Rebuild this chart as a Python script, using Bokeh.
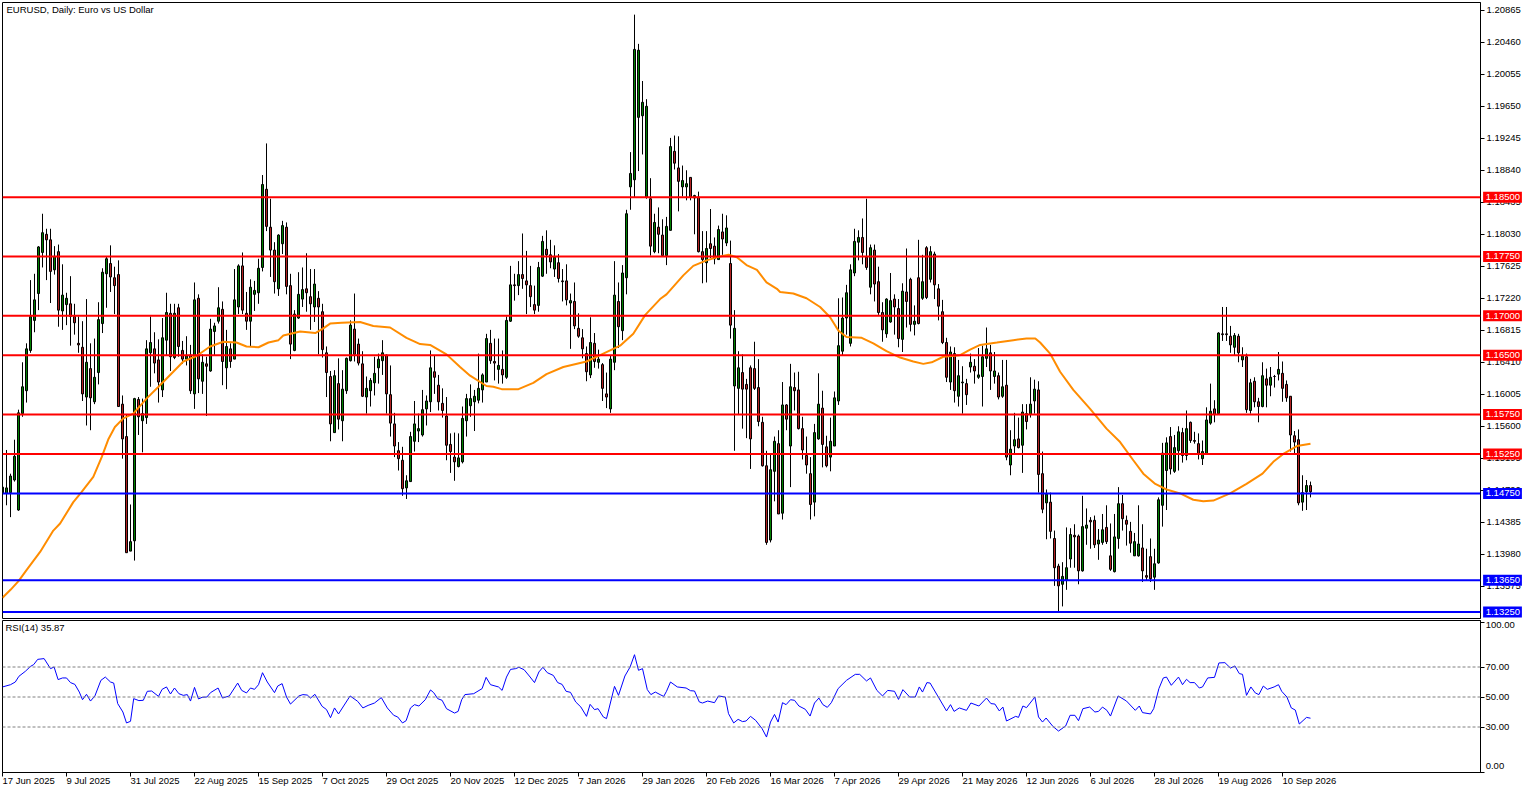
from bokeh.plotting import figure
from bokeh.layouts import column
from bokeh.models import Range1d, FixedTicker, Span, Label, NumeralTickFormatter
from bokeh.core.properties import value
from bokeh.embed import file_html
from bokeh.resources import INLINE

FONT = "Liberation Sans"

# Prices are in 1/10000 of a dollar
highs = [
11556,11530,11500,11543,11581,11641,11665,11745,11753,11788,
11829,11810,11810,11788,11790,11765,11729,11750,11715,11699,
11693,11721,11665,11671,11717,11760,11775,11789,11762,11770,
11599,11575,11461,11596,11597,11595,11669,11699,11679,11670,
11697,11729,11715,11715,11715,11668,11674,11663,11742,11727,
11651,11648,11696,11691,11736,11718,11682,11665,11759,11765,
11780,11730,11746,11744,11772,11878,11918,11848,11793,11803,
11820,11818,11753,11707,11755,11761,11779,11759,11759,11731,
11715,11661,11630,11631,11646,11631,11647,11694,11728,11671,
11655,11623,11621,11648,11652,11669,11651,11637,11577,11540,
11534,11498,11553,11592,11576,11606,11599,11656,11650,11625,
11608,11597,11551,11552,11551,11585,11601,11613,11606,11652,
11627,11677,11682,11671,11671,11656,11699,11763,11753,11769,
11804,11782,11763,11738,11768,11801,11808,11796,11789,11778,
11759,11765,11728,11742,11703,11683,11661,11698,11678,11657,
11640,11628,11649,11769,11742,11764,11834,11907,12081,12044,
11997,11974,11874,11829,11837,11822,11825,11925,11928,11927,
11890,11884,11875,11853,11857,11807,11807,11835,11799,11814,
11829,11827,11795,11707,11655,11651,11620,11637,11667,11645,
11572,11529,11524,11547,11555,11616,11588,11639,11628,11629,
11572,11547,11521,11563,11627,11605,11548,11571,11604,11722,
11723,11739,11765,11810,11808,11823,11848,11790,11790,11762,
11717,11722,11754,11727,11721,11741,11785,11748,11713,11796,
11777,11788,11788,11781,11740,11720,11672,11661,11660,11644,
11636,11620,11652,11645,11659,11662,11685,11663,11654,11628,
11644,11644,11555,11577,11571,11588,11588,11622,11619,11617,
11528,11480,11476,11428,11386,11388,11432,11431,11436,11423,
11472,11456,11445,11447,11430,11449,11460,11437,11449,11483,
11473,11447,11439,11425,11460,11436,11405,11418,11405,11470,
11539,11546,11559,11549,11560,11558,11580,11566,11553,11551,
11542,11584,11614,11593,11679,11711,11711,11687,11678,11677,
11660,11652,11620,11622,11596,11641,11633,11635,11625,11654,
11642,11618,11598,11554,11556,11498,11492,11490]

body_hi = [
11483,11482,11497,11522,11577,11610,11658,11699,11720,11787,
11805,11803,11796,11775,11781,11726,11722,11715,11699,11665,
11660,11641,11633,11622,11695,11755,11772,11766,11748,11752,
11588,11547,11414,11595,11594,11576,11658,11666,11658,11644,
11672,11704,11703,11703,11710,11656,11649,11650,11720,11722,
11641,11639,11683,11687,11710,11708,11661,11658,11720,11763,
11763,11703,11736,11732,11760,11866,11860,11812,11783,11802,
11814,11812,11738,11702,11727,11733,11734,11724,11740,11722,
11705,11653,11623,11624,11614,11607,11646,11688,11683,11664,
11639,11608,11618,11627,11645,11653,11650,11600,11563,11529,
11517,11491,11547,11563,11557,11581,11592,11634,11629,11612,
11589,11573,11537,11521,11520,11570,11595,11595,11598,11608,
11625,11671,11665,11642,11637,11632,11694,11739,11739,11752,
11752,11744,11738,11714,11761,11794,11784,11777,11774,11767,
11744,11744,11719,11718,11684,11672,11652,11666,11665,11645,
11638,11601,11645,11726,11718,11754,11829,11880,12037,12036,
11970,11965,11848,11818,11812,11802,11813,11914,11908,11887,
11871,11867,11875,11852,11850,11781,11785,11791,11788,11809,
11806,11811,11766,11684,11634,11628,11613,11634,11633,11609,
11565,11510,11505,11541,11538,11587,11587,11610,11609,11606,
11557,11523,11500,11552,11588,11583,11534,11541,11596,11662,
11697,11729,11758,11794,11799,11799,11774,11786,11783,11743,
11704,11721,11719,11721,11709,11731,11730,11746,11693,11748,
11743,11786,11781,11778,11734,11705,11666,11654,11652,11624,
11616,11614,11641,11636,11625,11648,11658,11653,11630,11624,
11610,11612,11531,11543,11544,11578,11576,11588,11607,11606,
11500,11474,11464,11418,11383,11370,11381,11423,11422,11421,
11433,11435,11441,11441,11416,11429,11432,11396,11420,11462,
11462,11441,11427,11414,11411,11406,11371,11395,11386,11467,
11526,11539,11547,11533,11553,11552,11557,11565,11542,11538,
11528,11568,11579,11582,11678,11677,11677,11674,11675,11674,
11649,11648,11615,11617,11591,11624,11620,11622,11623,11632,
11627,11613,11598,11548,11543,11476,11485,11485]

body_lo = [
11475,11475,11476,11492,11454,11576,11605,11656,11694,11728,
11780,11796,11756,11758,11707,11706,11714,11699,11691,11663,
11601,11597,11596,11591,11628,11690,11753,11749,11738,11585,
11544,11400,11402,11415,11572,11567,11571,11653,11640,11616,
11606,11669,11648,11647,11661,11645,11645,11605,11601,11620,
11617,11636,11630,11680,11693,11642,11634,11642,11645,11711,
11707,11693,11693,11727,11729,11761,11813,11783,11743,11734,
11791,11737,11664,11656,11697,11721,11729,11715,11711,11711,
11657,11628,11563,11552,11569,11567,11605,11643,11651,11640,
11598,11597,11605,11615,11634,11643,11601,11564,11535,11519,
11481,11482,11490,11541,11554,11549,11582,11591,11622,11591,
11580,11536,11528,11515,11509,11515,11567,11586,11591,11593,
11606,11616,11643,11640,11632,11625,11622,11693,11738,11738,
11747,11739,11724,11707,11713,11750,11777,11768,11759,11747,
11743,11720,11716,11687,11674,11658,11629,11625,11642,11641,
11608,11597,11582,11641,11686,11681,11748,11863,11872,11951,
11953,11850,11788,11781,11803,11776,11776,11808,11893,11870,
11863,11863,11850,11849,11781,11771,11767,11785,11772,11771,
11797,11792,11688,11611,11608,11607,11607,11544,11608,11566,
11510,11413,11416,11503,11449,11450,11569,11535,11605,11557,
11530,11511,11461,11464,11544,11537,11510,11521,11535,11592,
11655,11697,11665,11754,11793,11780,11761,11736,11740,11704,
11682,11677,11692,11711,11671,11670,11718,11689,11689,11690,
11722,11723,11746,11739,11712,11666,11622,11616,11605,11598,
11615,11600,11635,11630,11622,11623,11646,11630,11623,11597,
11598,11521,11511,11535,11533,11536,11566,11575,11592,11499,
11455,11463,11427,11381,11358,11360,11365,11392,11420,11377,
11377,11431,11439,11410,11411,11413,11414,11379,11376,11418,
11443,11436,11412,11396,11396,11377,11369,11367,11369,11387,
11460,11504,11506,11503,11529,11523,11523,11542,11541,11525,
11519,11525,11564,11575,11576,11676,11676,11663,11660,11653,
11644,11581,11580,11591,11585,11585,11612,11612,11623,11626,
11608,11596,11549,11540,11463,11464,11477,11477]

lows = [
11471,11460,11445,11490,11453,11572,11590,11653,11679,11707,
11761,11745,11716,11752,11686,11682,11688,11662,11676,11653,
11592,11561,11555,11588,11613,11678,11710,11730,11702,11585,
11519,11400,11402,11390,11549,11527,11563,11610,11627,11590,
11597,11650,11630,11645,11648,11639,11637,11601,11582,11602,
11601,11573,11629,11650,11690,11612,11607,11634,11645,11702,
11702,11682,11661,11706,11715,11756,11807,11749,11728,11725,
11778,11727,11645,11655,11696,11711,11705,11682,11692,11651,
11647,11597,11541,11552,11556,11541,11601,11642,11642,11637,
11597,11576,11585,11599,11614,11625,11576,11547,11521,11504,
11472,11468,11490,11528,11540,11547,11561,11578,11601,11580,
11571,11517,11501,11491,11508,11513,11547,11572,11554,11589,
11590,11616,11639,11618,11614,11614,11620,11692,11719,11726,
11734,11702,11711,11702,11705,11749,11753,11760,11749,11742,
11718,11713,11658,11683,11672,11646,11617,11621,11634,11633,
11592,11583,11577,11631,11659,11669,11727,11834,11850,11883,
11904,11848,11776,11779,11779,11775,11764,11808,11885,11832,
11851,11846,11846,11803,11780,11741,11742,11773,11765,11771,
11777,11788,11671,11529,11575,11557,11545,11506,11606,11560,
11509,11410,11413,11465,11449,11442,11555,11483,11580,11556,
11518,11500,11442,11446,11543,11508,11508,11503,11535,11587,
11650,11676,11661,11750,11770,11765,11758,11727,11718,11701,
11667,11672,11691,11676,11660,11654,11685,11680,11675,11689,
11720,11721,11742,11721,11694,11664,11616,11606,11590,11585,
11576,11587,11628,11614,11620,11585,11635,11606,11614,11594,
11596,11517,11498,11525,11532,11501,11556,11571,11576,11476,
11450,11417,11418,11358,11325,11332,11353,11381,11381,11360,
11376,11410,11405,11406,11391,11410,11411,11377,11375,11405,
11428,11409,11400,11396,11395,11363,11365,11363,11353,11386,
11433,11454,11499,11501,11504,11514,11517,11539,11538,11518,
11511,11525,11562,11565,11575,11668,11668,11653,11650,11641,
11635,11577,11576,11584,11565,11584,11584,11598,11609,11618,
11591,11591,11528,11526,11460,11453,11454,11470]

direction = (
"GGGGGGGGGG" "GRRGRGGRRR" "RGRGGGGRRR" "RRGGRGGGRR"
"GGRGRRGRGR" "GRGGGRGRGG" "RRGGGGRRRG" "GRRGGGRRGR"
"RRRGRGGGRR" "RGGGGGRRRR" "RGGGGGGGRR" "RRRRGGGGGG"
"GGRRGRGGRG" "RRRRGGRRGR" "RRGRRRRGRG" "RRGGRGGGGG"
"GGRGRRGGRR" "GGRGRRGRRG" "RGRGGRRRRR" "RRGGRGRGRR"
"RRRGGRRGGG" "GGGGGRRGRR" "RGGRRGRRGR" "GRGRRRRGRG"
"GRGRGGGRGR" "GRGGRGRGGR" "RGRRRGGGRR" "GGRRGGRRGG"
"RRRGGRRRGG" "GGRGGRGRRR" "GGGRGRRRGR" "GRGRRGRGRG"
"RRRRRGGR")

ma_bar = [0,2,4,6,9.4,12.7,14.4,17.7,19.8,22.7,24.8,26.5,28.1,30.2,32.7,36,39,42.7,45.2,48.5,51.9,55.2,58.5,61,64,
66.5,69,70.2,74.4,78.2,80.2,81.9,84.8,89.4,92.7,96.9,101,104.4,106.9,111,114.4,116.9,121,122.7,124.8,129,
132.7,136,140.2,146,150.2,154.4,157.7,160.7,164.4,166,170.2,172.7,176,179.4,181.5,183.6,186,188.6,191,193.6,194.4,
197.7,201,204.4,206.9,209,211,214.8,217.7,221,224.4,227.7,230.2,232.3,235.2,239.4,241.9,244.4,248.6,252.7,256,258.2,259.4,
261.9,264.4,267.7,271.9,276,279.4,282.7,285.2,288.2,291,294.4,297.7,300.2,302.7,306.9,311,315,317.7,320.2,323.6,327]
ma_val = [11343,11353,11364,11378,11401,11428,11437,11464,11477,11496,11521,11544,11559,11570,11576,11595,11610,11629,11642,11649,11661,11667,11666,11661,11660,
11666,11669,11675,11680,11678,11684,11690,11691,11692,11687,11685,11672,11664,11663,11651,11635,11624,11611,11610,11607,11607,
11615,11626,11635,11642,11652,11662,11677,11701,11721,11727,11751,11763,11770,11775,11777,11774,11764,11758,11742,11734,11730,
11728,11722,11711,11698,11681,11673,11672,11665,11655,11647,11642,11639,11641,11648,11650,11657,11663,11666,11669,11671,11671,11666,
11652,11629,11606,11582,11557,11540,11517,11500,11487,11480,11475,11467,11465,11466,11475,11487,11500,11515,11525,11535,11538]

rsi_bar = [0,2,3.2,4.1,5.7,7,7.8,8.8,10.4,12,12.9,13.9,15,16,17,18.1,19.2,20,21,22,23.1,24.6,25.7,27,27.8,28.8,30.1,31,32,32.8,34.1,35.2,36.2,37.3,39,39.9,41,42,43,44.1,45.2,46.2,47,48,49,49.9,51.1,52,53.9,55,56.7,58.8,59.8,61,62,63,64,65,66.2,68,68.8,69.9,71,72,74.1,75.1,76.2,77,78.1,79.9,81,82,83,84,86.9,88.8,90.1,91.4,93,94.7,96.2,97.8,98.8,100,100.9,102,103,104.1,105.7,107,107.8,108.8,109.9,111,113,113.9,114.8,115.6,117.8,119.9,120.9,122,124,124.9,126,127,128.3,129.1,130.4,131.7,133,134.1,135.1,136.2,137.7,138.8,139.9,140.9,142,143.3,144.6,146,146.9,148,148.9,150.2,151,153,154,155.6,156.9,158,159,160,161.2,162.1,163.2,
164.4,165.3,166,167,168.7,170.9,172,173,174.2,175,176.3,178,179,180.7,181.5,182.8,183.9,185,185.9,187,188.3,189.9,191,192,193,193.9,195,195.9,197,198,199.1,200.7,201.9,203,204.1,205.1,206.2,207.2,208.9,211,213.2,214.3,216,217,218.6,220,221.3,223,224,225.1,226.8,228.2,229.2,230,231.1,231.9,233.8,236,237,237.9,239.2,241,242.1,244.1,246,247.1,248.1,249.2,250.1,251,253.3,254,255.1,256,258.1,259,260,260.9,262.6,264,265.8,266.9,268.1,269,270.1,271.8,273.1,274,275,276.1,277,278.9,281,283.2,284.2,285,287,287.8,289.1,290.2,291,292.2,294,295,296,296.9,298,299.2,300,301.3,303,304.1,305.6,307,308.1,309.2,310,311,312.1,313.2,314.1,315.2,316.2,317.9,319,319.8,321.1,322.2,323.2,324.2,326,327]
rsi_val = [56.7,58.2,60,63.8,67.1,70.4,71.6,75.1,75.6,68.9,70,61.6,62.7,62.7,59.6,58.4,53.3,48.2,51.8,47.3,50.7,61.1,63.3,60,59.3,45.6,40,32.7,33.8,48.9,47.6,47.8,53.8,54,50.4,55.1,56.7,52,56,52.2,51.1,51.6,47.3,56.4,48.7,49.8,50,52.9,56,49.3,50.7,59.3,54.4,52.7,56,55.1,58.2,66.2,60,52.9,57.3,58.9,50,45.3,50.7,51.6,51.3,49.3,51.8,43.8,41.6,36.2,42.7,38.7,50.7,47.1,42.7,44.4,46,49.6,42.7,37.8,36.7,32.7,34.2,42.7,44.9,44,48.2,54.7,52.9,48.9,47.8,42.2,39.3,40.4,48.2,51.6,52.2,55.6,63.1,58.2,56.7,54.4,63.3,68.4,68.9,69.8,68.2,64,59.6,66.7,69.8,66.2,64.4,59.6,58.4,53.8,53.1,46.7,43.3,37.1,45.1,41.6,42.2,36.7,35.6,57.1,51.1,64,70,78.2,67.8,68.9,54.9,51.6,53.3,
51.6,50.4,53.8,60,56.7,56,54.2,54,46.7,46,47.3,46.2,50.7,50,38.9,32.7,35.1,33.6,34,37.1,34.4,28.9,23.3,33.3,38.4,33.3,46.2,44.9,48.2,47.8,44,41.8,37.3,46,49.3,44.9,43.1,46.2,55.6,61.1,65.1,65.1,60.7,62.7,54.4,50.7,54.4,53.8,48.4,54.9,50,50,56.7,53.3,59.6,59.3,50.7,40.7,44.9,40.4,42.7,41.1,46,44,49.3,45.6,45.3,40.7,43.3,34,37.1,36.4,44,42.9,50,36.7,33.3,36,30.4,27.3,30.7,37.8,37.8,34.2,42.2,43.3,40,40.4,43.3,41.1,37.3,50.7,47.3,41.1,44,39.6,38.7,42.2,55.6,62.7,63.3,57.8,63.3,58.2,61.8,59.6,59.6,56,56.7,62.7,63.1,72.7,72.9,69.3,70.7,65.6,65.1,51.1,56.7,52.7,51.6,57.3,55.1,56.7,58.2,53.8,50,42.7,41.3,32,36.4,35.87]

resistance_levels = [1.1850, 1.1775, 1.1700, 1.1650, 1.1575, 1.1525]
support_levels = [1.1475, 1.1365, 1.1325]
rsi_levels = [70, 50, 30]
rsi_end_labels = ["100.00", "0.00"]
price_ticks = [1.20865,1.20460,1.20055,1.19650,1.19245,1.18840,1.18435,1.18030,1.17625,1.17220,
               1.16815,1.16410,1.16005,1.15600,1.15195,1.14790,1.14385,1.13980,1.13575]
date_bars = list(range(0, 321, 16))
date_labels = ["17 Jun 2025","9 Jul 2025","31 Jul 2025","22 Aug 2025","15 Sep 2025","7 Oct 2025","29 Oct 2025",
               "20 Nov 2025","12 Dec 2025","7 Jan 2026","29 Jan 2026","20 Feb 2026","16 Mar 2026","7 Apr 2026",
               "29 Apr 2026","21 May 2026","12 Jun 2026","6 Jul 2026","28 Jul 2026","19 Aug 2026","10 Sep 2026"]

GREEN = "#008000"
RED = "#B22222"
BLUE_LINE = "#0000FF"
RED_LINE = "#FF0000"
TXT = "9.5px"

n = len(highs)
xs = list(range(n))
x_range = Range1d(0, 369.5)


def style_frame(fig):
    fig.grid.visible = False
    fig.outline_line_color = "black"
    fig.outline_line_width = 1
    fig.background_fill_color = "white"
    fig.border_fill_color = "white"


price = figure(width=1525, height=619, frame_width=1478, frame_height=616,
               x_range=x_range, y_range=Range1d(1.131671, 1.209636),
               x_axis_location=None, y_axis_location="right",
               output_backend="svg", toolbar_location=None,
               min_border_left=2, min_border_top=2, min_border_bottom=1, min_border_right=45)
style_frame(price)
ax = price.yaxis[0]
ax.ticker = FixedTicker(ticks=price_ticks)
ax.formatter = NumeralTickFormatter(format="0.00000")
ax.major_tick_out = 4
ax.major_tick_in = 0
ax.minor_tick_line_color = None
ax.major_label_standoff = 2
ax.major_label_text_font = FONT
ax.major_label_text_font_size = TXT
ax.major_label_text_color = "black"
ax.axis_line_color = "black"

price.segment(xs, [v / 1e4 for v in lows], xs, [v / 1e4 for v in highs], line_color="black", line_width=1)
price.vbar(x=xs, width=0.5,
           top=[v / 1e4 for v in body_hi], bottom=[v / 1e4 for v in body_lo],
           fill_color=[GREEN if d == "G" else RED for d in direction],
           line_color="black", line_width=1)
price.line(ma_bar, [v / 1e4 for v in ma_val], line_color="#FF8C00", line_width=2)


def level_badge(level, color):
    price.add_layout(Span(location=level, dimension="width", line_color=color, line_width=2))
    price.rect(x=[375], y=[level], width=9.7, height=0.00139, fill_color=color, line_color=None, level="overlay")
    price.text(x=[370.8], y=[level], text=[f"{level:.5f}"], text_color="white", text_font=value(FONT),
               text_font_size=TXT, text_baseline="middle", text_align="left", level="overlay")


for lvl in resistance_levels:
    level_badge(lvl, RED_LINE)
for lvl in support_levels:
    level_badge(lvl, BLUE_LINE)

price.add_layout(Label(x=4, x_units="screen", y=609, y_units="screen",
                       text="EURUSD, Daily:  Euro vs US Dollar", text_color="black",
                       text_font=FONT, text_font_size=TXT, text_baseline="middle"))

rsi = figure(width=1525, height=172, frame_width=1478, frame_height=152,
             x_range=x_range, y_range=Range1d(-0.33, 101.0),
             y_axis_location="right", output_backend="svg", toolbar_location=None,
             min_border_left=2, min_border_top=1, min_border_bottom=19, min_border_right=45)
style_frame(rsi)
ay = rsi.yaxis[0]
ay.ticker = FixedTicker(ticks=[0, 30, 50, 70, 100])
ay.major_label_overrides = {0: "", 30: "30.00", 50: "50.00", 70: "70.00", 100: ""}
ay.major_tick_out = 4
ay.major_tick_in = 0
ay.minor_tick_line_color = None
ay.major_label_standoff = 1
ay.major_label_text_font = FONT
ay.major_label_text_font_size = TXT
ay.major_label_text_color = "black"

axx = rsi.xaxis[0]
axx.ticker = FixedTicker(ticks=date_bars)
axx.major_label_overrides = {b: "" for b in date_bars}
axx.major_tick_out = 4
axx.major_tick_in = 0
axx.minor_tick_line_color = None
axx.major_label_standoff = 0
axx.major_label_text_font_size = TXT

for lvl in rsi_levels:
    rsi.add_layout(Span(location=lvl, dimension="width", line_color="#808080", line_width=1, line_dash="3 2"))
rsi.line(rsi_bar, rsi_val, line_color="#0000FF", line_width=1)

rsi.add_layout(Label(x=3, x_units="screen", y=145, y_units="screen",
                     text="RSI(14) 35.87", text_color="black", text_font=FONT,
                     text_font_size=TXT, text_baseline="middle"))
rsi.text(x=[370.8, 370.8], y=[98, 4.2], text=rsi_end_labels, text_color="black", text_font=value(FONT),
         text_font_size=TXT, text_baseline="middle", text_align="left", level="overlay")
rsi.text(x=date_bars, y=[-5.4] * len(date_bars), text=date_labels, text_color="black", text_font=value(FONT),
         text_font_size=TXT, text_baseline="middle", text_align="left", level="overlay")

layout = column(price, rsi, spacing=0)
open("out.html", "w").write(file_html(layout, INLINE))
